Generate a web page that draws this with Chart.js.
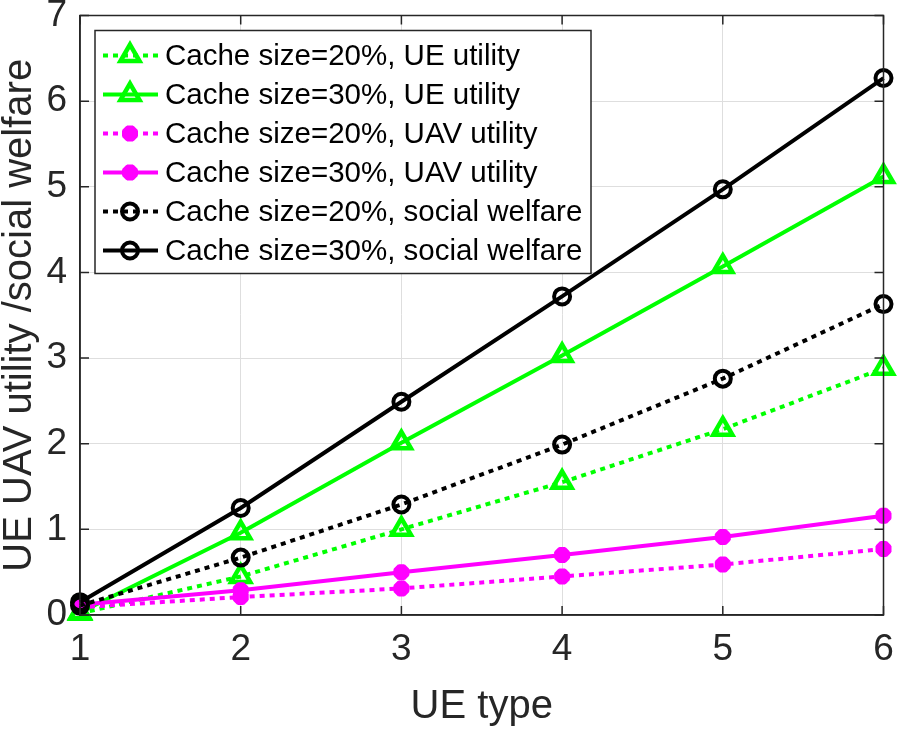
<!DOCTYPE html>
<html>
<head>
<meta charset="utf-8">
<script src="https://cdn.jsdelivr.net/npm/chart.js@4"></script>
<style>
  html, body { margin: 0; padding: 0; background: #fff; }
  #wrap { width: 899px; height: 730px; }
</style>
</head>
<body>
<div id="wrap"><canvas id="chart"></canvas></div>
<script>
// data
const ueTypes = [1, 2, 3, 4, 5, 6];
const ueUtil20 = [0.02, 0.45, 1.00, 1.55, 2.17, 2.88];
const ueUtil30 = [0.03, 0.96, 2.01, 3.03, 4.07, 5.12];
const uavUtil20 = [0.09, 0.21, 0.31, 0.45, 0.59, 0.77];
const uavUtil30 = [0.12, 0.29, 0.50, 0.70, 0.91, 1.16];
const welfare20 = [0.11, 0.67, 1.29, 1.99, 2.76, 3.63];
const welfare30 = [0.15, 1.25, 2.49, 3.72, 4.97, 6.27];
const seriesLabels = [
    'Cache size=20%, UE utility',
    'Cache size=30%, UE utility',
    'Cache size=20%, UAV utility',
    'Cache size=30%, UAV utility',
    'Cache size=20%, social welfare',
    'Cache size=30%, social welfare'
];

const FONT = "'Liberation Sans', Arial, Helvetica, sans-serif";
const AXIS = '#262626';
const GREEN = '#00ff00', MAGENTA = '#ff00ff', BLACK = '#000000';

function pts(ys) {
    return ys.map((y, i) => ({ x: ueTypes[i], y: y }));
}

// marker styles per series
const styles = [
    { color: GREEN, dash: [5, 5], marker: 'triangle', radius: 11, mw: 4.5 },
    { color: GREEN, dash: [], marker: 'triangle', radius: 11, mw: 4.5 },
    { color: MAGENTA, dash: [5, 5], marker: 'star', radius: 8, mw: 6 },
    { color: MAGENTA, dash: [], marker: 'star', radius: 8, mw: 6 },
    { color: BLACK, dash: [5, 5], marker: 'circle', radius: 8, mw: 4 },
    { color: BLACK, dash: [], marker: 'circle', radius: 8, mw: 4 }
];
const allSeries = [ueUtil20, ueUtil30, uavUtil20, uavUtil30, welfare20, welfare30];

const datasets = allSeries.map((ys, i) => ({
    label: seriesLabels[i],
    data: pts(ys),
    borderColor: styles[i].color,
    borderWidth: 4,
    borderDash: styles[i].dash,
    borderCapStyle: 'butt',
    pointStyle: styles[i].marker,
    pointRadius: styles[i].radius,
    pointBorderWidth: styles[i].mw,
    pointBorderColor: styles[i].color,
    pointBackgroundColor: styles[i].marker === 'star' ? styles[i].color : 'rgba(0,0,0,0)',
    tension: 0,
    clip: false,
    order: allSeries.length - i
}));

function drawMarker(ctx, st, x, y) {
    ctx.save();
    ctx.setLineDash([]);
    ctx.strokeStyle = st.color;
    ctx.fillStyle = st.marker === 'star' ? st.color : 'rgba(0,0,0,0)';
    ctx.lineWidth = st.mw;
    Chart.helpers.drawPoint(ctx, { pointStyle: st.marker, radius: st.radius, rotation: 0, borderWidth: st.mw }, x, y);
    ctx.restore();
}

// MATLAB-like box, inward ticks and legend inside the axes
const boxPlugin = {
    id: 'boxPlugin',
    afterDraw(chart) {
        const { ctx, chartArea: a, scales } = chart;
        ctx.save();
        ctx.strokeStyle = AXIS;
        ctx.lineWidth = 1.5;
        ctx.strokeRect(a.left, a.top, a.right - a.left, a.bottom - a.top);
        ctx.beginPath();
        scales.y.ticks.forEach(t => {
            const py = scales.y.getPixelForValue(t.value);
            ctx.moveTo(a.left, py); ctx.lineTo(a.left + 9, py);
            ctx.moveTo(a.right, py); ctx.lineTo(a.right - 9, py);
        });
        scales.x.ticks.forEach(t => {
            const px = scales.x.getPixelForValue(t.value);
            ctx.moveTo(px, a.bottom); ctx.lineTo(px, a.bottom - 9);
            ctx.moveTo(px, a.top); ctx.lineTo(px, a.top + 9);
        });
        ctx.stroke();

        // legend
        const lx = a.left + 15, ly = a.top + 15, lw = 496, lh = 243, row = 39;
        ctx.fillStyle = '#fff';
        ctx.fillRect(lx, ly, lw, lh);
        ctx.strokeStyle = AXIS;
        ctx.lineWidth = 1.5;
        ctx.strokeRect(lx, ly, lw, lh);
        ctx.font = '29.5px ' + FONT;
        ctx.textBaseline = 'middle';
        ctx.textAlign = 'left';
        chart.data.datasets.forEach((ds, i) => {
            const st = styles[i];
            const cy = ly + 25 + i * row;
            ctx.save();
            ctx.strokeStyle = st.color;
            ctx.lineWidth = 4;
            ctx.lineCap = 'butt';
            ctx.setLineDash(st.dash);
            ctx.beginPath();
            ctx.moveTo(lx + 8, cy); ctx.lineTo(lx + 63, cy);
            ctx.stroke();
            ctx.restore();
            drawMarker(ctx, st, lx + 35, cy);
            ctx.fillStyle = '#000';
            ctx.fillText(ds.label, lx + 70, cy + 1);
        });
        ctx.restore();
    }
};

new Chart(document.getElementById('chart'), {
    type: 'line',
    data: { datasets: datasets },
    plugins: [boxPlugin],
    options: {
        responsive: true,
        maintainAspectRatio: false,
        animation: false,
        layout: { padding: { top: 10, right: 13, left: 0, bottom: 0 } },
        plugins: {
            legend: { display: false },
            tooltip: { enabled: false }
        },
        scales: {
            x: {
                type: 'linear',
                min: 1,
                max: 6,
                afterFit: s => { s.height = 115; s.paddingLeft = 0; s.paddingRight = 0; },
                ticks: { stepSize: 1, color: AXIS, padding: 16, font: { family: FONT, size: 37, lineHeight: 1 } },
                grid: { color: '#dedede', lineWidth: 1, drawTicks: false },
                border: { color: AXIS, width: 1.5 },
                title: { display: true, text: 'UE type', color: AXIS, padding: { top: 0, bottom: 3 },
                         font: { family: FONT, size: 40, lineHeight: 1 } }
            },
            y: {
                min: 0,
                max: 7,
                afterFit: s => { s.width = 80; s.paddingTop = 0; s.paddingBottom = 0; },
                ticks: { stepSize: 1, color: AXIS, padding: 13, font: { family: FONT, size: 37, lineHeight: 1 } },
                grid: { color: '#dedede', lineWidth: 1, drawTicks: false },
                border: { color: AXIS, width: 1.5 },
                title: { display: true, text: 'UE UAV utility /social welfare', color: AXIS, padding: { top: 0, bottom: 0 },
                         font: { family: FONT, size: 40, lineHeight: 1 } }
            }
        }
    }
});
</script>
</body>
</html>
